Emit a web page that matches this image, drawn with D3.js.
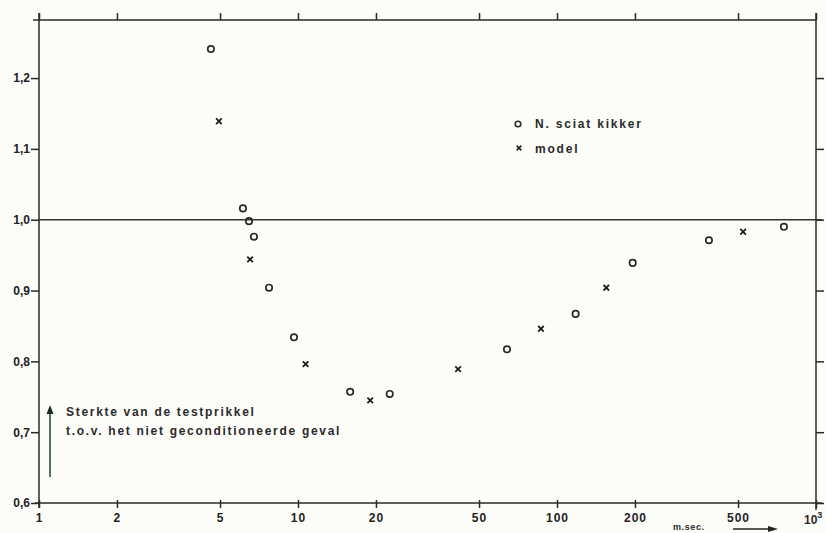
<!DOCTYPE html>
<html>
<head>
<meta charset="utf-8">
<script src="https://cdn.jsdelivr.net/npm/d3@7"></script>
<style>
  body { margin: 0; background: #fcfcf9; }
  svg { display: block; }
  .axis path, .axis line { stroke: #2a2a2a; stroke-width: 1.5; }
  .axis text { font-family: "Liberation Sans", sans-serif; font-size: 12px; font-weight: bold; fill: #222; }
  .lbl { font-family: "Liberation Sans", sans-serif; font-size: 12px; font-weight: bold; fill: #2a2a2a; letter-spacing: 1.7px; }
</style>
</head>
<body>
<script>
var kikkerX = [4.61, 6.13, 6.47, 6.76, 7.73, 9.65, 15.9, 22.6, 64.1, 118, 196, 386, 752],
    kikkerY = [1.241, 1.016, 0.998, 0.976, 0.904, 0.834, 0.757, 0.754, 0.817, 0.867, 0.939, 0.971, 0.990];
var modelX = [4.95, 6.53, 10.7, 19.0, 41.5, 86.7, 155, 523],
    modelY = [1.139, 0.944, 0.796, 0.745, 0.789, 0.846, 0.904, 0.983];
var xTicks = [1, 2, 5, 10, 20, 50, 100, 200, 500, 1000],
    yTicks = [0.6, 0.7, 0.8, 0.9, 1.0, 1.1, 1.2];
var legendNames = ["N. sciat  kikker", "model"];
var yLabel = ["Sterkte van de testprikkel", "t.o.v.  het niet geconditioneerde geval"];

var width = 826, height = 533;

var x = d3.scaleLog().domain([1, 1000]).range([39, 816]),
    y = d3.scaleLinear().domain([0.6, 1.282]).range([503, 20]);

var svg = d3.select("body").append("svg")
    .attr("width", width)
    .attr("height", height);

var fmt = function(d) { return d3.format(".1f")(d).replace(".", ","); };

// axes
svg.append("g").attr("class", "axis")
    .attr("transform", "translate(0," + y(0.6) + ")")
    .call(d3.axisBottom(x).tickValues(xTicks).tickSize(5).tickSizeOuter(0).tickPadding(5)
        .tickFormat(function(d) { return d === 1000 ? "" : d; }))
    .call(function(g) {
        g.selectAll(".tick text").style("letter-spacing", "1px");
        g.selectAll(".tick line").attr("y1", -3);
        g.select(".domain").attr("d", "M35,0H822");
    });

// 10^3 label
var sup = svg.append("text").attr("class", "lbl")
    .attr("x", 804).attr("y", 524)
    .style("letter-spacing", "0px");
sup.append("tspan").text("10");
sup.append("tspan").attr("dy", -6).style("font-size", "9px").text("3");

svg.append("g").attr("class", "axis")
    .attr("transform", "translate(0," + y.range()[1] + ")")
    .call(d3.axisTop(x).tickValues(xTicks).tickSize(7).tickSizeOuter(0).tickFormat(""))
    .call(function(g) { g.select(".domain").attr("d", "M33,0H816"); });

svg.append("g").attr("class", "axis")
    .attr("transform", "translate(" + x(1) + ",0)")
    .call(d3.axisLeft(y).tickValues(yTicks).tickSize(8).tickSizeOuter(0).tickPadding(1).tickFormat(fmt))
    .call(function(g) { g.select(".domain").attr("d", "M0,13V508"); });

svg.append("g").attr("class", "axis")
    .attr("transform", "translate(" + x(1000) + ",0)")
    .call(d3.axisRight(y).tickValues(yTicks).tickSize(8).tickSizeOuter(0).tickFormat(""))
    .call(function(g) { g.select(".domain").attr("d", "M0,13V510"); });

// reference line at 1,0
svg.append("line")
    .attr("x1", x(1)).attr("x2", 822)
    .attr("y1", y(1)).attr("y2", y(1))
    .attr("stroke", "#333").attr("stroke-width", 1.4);

// circles: N. sciat kikker
svg.selectAll(".kik")
    .data(d3.zip(kikkerX, kikkerY))
  .enter().append("circle")
    .attr("class", "kik")
    .attr("cx", function(d) { return x(d[0]); })
    .attr("cy", function(d) { return y(d[1]); })
    .attr("r", 3.2)
    .attr("fill", "none")
    .attr("stroke", "#2a2a2a")
    .attr("stroke-width", 1.7);

// crosses: model
var cross = d3.symbol().type(d3.symbolX).size(22);
svg.selectAll(".mod")
    .data(d3.zip(modelX, modelY))
  .enter().append("path")
    .attr("class", "mod")
    .attr("d", cross)
    .attr("transform", function(d) { return "translate(" + x(d[0]) + "," + y(d[1]) + ")"; })
    .attr("fill", "none")
    .attr("stroke", "#1e1e1e")
    .attr("stroke-width", 1.8);

// legend
var lg = svg.append("g").attr("transform", "translate(518,124)");
lg.append("circle").attr("r", 2.8).attr("fill", "none").attr("stroke", "#2a2a2a").attr("stroke-width", 1.6);
lg.append("path").attr("d", d3.symbol().type(d3.symbolX).size(16)).attr("transform", "translate(1,24)")
    .attr("fill", "none").attr("stroke", "#1e1e1e").attr("stroke-width", 1.6);
lg.selectAll("text")
    .data(legendNames)
  .enter().append("text")
    .attr("class", "lbl")
    .attr("x", 17)
    .attr("y", function(d, i) { return 4 + i * 25; })
    .style("letter-spacing", "1.8px")
    .text(function(d) { return d; });

// y description with arrow
svg.selectAll(".ylab")
    .data(yLabel)
  .enter().append("text")
    .attr("class", "lbl ylab")
    .attr("x", 66)
    .attr("y", function(d, i) { return 416 + i * 19; })
    .text(function(d) { return d; });

svg.append("line")
    .attr("x1", 50).attr("x2", 50).attr("y1", 477).attr("y2", 412)
    .attr("stroke", "#55705f").attr("stroke-width", 2);
svg.append("path")
    .attr("d", "M46.5,414L50,405L53.5,414Z")
    .attr("fill", "#1e2a22");

// unit with arrow
svg.append("text").attr("class", "lbl")
    .attr("x", 673).attr("y", 530)
    .style("font-size", "9px").style("letter-spacing", "0.6px")
    .text("m.sec.");
svg.append("line")
    .attr("x1", 733).attr("x2", 771).attr("y1", 529).attr("y2", 529)
    .attr("stroke", "#222").attr("stroke-width", 1.3);
svg.append("path")
    .attr("d", "M768,526L778,529L768,532Z")
    .attr("fill", "#222");
</script>
</body>
</html>
